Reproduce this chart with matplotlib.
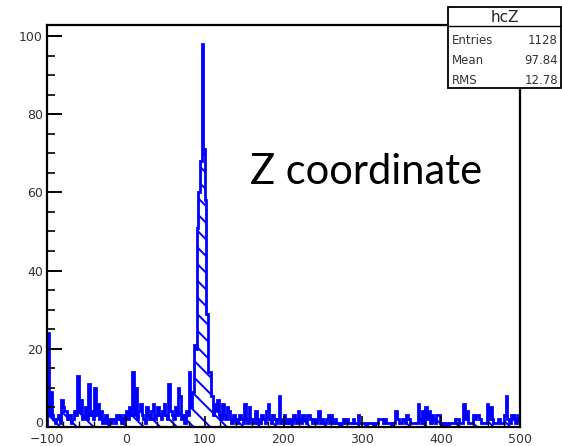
import numpy as np
import matplotlib.pyplot as plt
from matplotlib.patches import Rectangle
from matplotlib.lines import Line2D
from matplotlib.ticker import MultipleLocator

# histogram hcZ : 300 bins from -100 to 500 (2 units per bin)
x_lo, x_hi = -100, 500
counts = [
    24, 3, 9, 3, 2, 1, 2, 3, 1, 7,        # -100 .. -80
    5, 4, 4, 2, 3, 1, 2, 4, 3, 13,        # -80 .. -60
    4, 7, 2, 3, 5, 2, 11, 3, 4, 2,        # -60 .. -40
    10, 3, 6, 2, 4, 1, 2, 3, 1, 2,        # -40 .. -20
    1, 2, 2, 1, 3, 2, 3, 1, 2, 3,         # -20 .. 0
    4, 2, 5, 3, 14, 3, 10, 2, 4, 6,       # 0 .. 20
    3, 2, 1, 5, 3, 2, 4, 6, 2, 3,         # 20 .. 40
    5, 3, 2, 4, 6, 3, 2, 11, 4, 3,        # 40 .. 60
    2, 5, 3, 10, 8, 2, 3, 1, 4, 3,        # 60 .. 80
    14, 5, 9, 21, 20, 51, 60, 68, 98, 71, # 80 .. 100
    58, 29, 14, 14, 8, 3, 6, 4, 7, 3,     # 100 .. 120
    2, 6, 3, 2, 5, 4, 2, 1, 3, 2,         # 120 .. 140
    1, 2, 3, 2, 1, 6, 2, 1, 5, 2,         # 140 .. 160
    1, 2, 4, 1, 2, 1, 3, 2, 1, 4,         # 160 .. 180
    6, 2, 1, 3, 2, 1, 2, 8, 1, 2,         # 180 .. 200
    3, 1, 2, 1, 2, 1, 3, 2, 1, 4,         # 200 .. 220
    2, 1, 3, 2, 1, 3, 3, 2, 1, 2,         # 220 .. 240
    1, 2, 4, 1, 2, 1, 1, 2, 3, 1,         # 240 .. 260
    3, 1, 2, 1, 1, 0, 1, 1, 2, 1,         # 260 .. 280
    2, 1, 1, 1, 2, 1, 1, 3, 1, 1,         # 280 .. 300
    1, 1, 0, 1, 1, 1, 1, 0, 1, 1,         # 300 .. 320
    2, 2, 2, 1, 2, 1, 1, 1, 0, 1,         # 320 .. 340
    1, 4, 2, 1, 1, 2, 2, 1, 3, 2,         # 340 .. 360
    1, 1, 1, 1, 1, 6, 2, 1, 4, 1,         # 360 .. 380
    5, 2, 4, 1, 3, 2, 1, 3, 3, 1,         # 380 .. 400
    1, 0, 1, 1, 0, 1, 1, 1, 1, 2,         # 400 .. 420
    2, 1, 1, 1, 6, 2, 4, 1, 1, 1,         # 420 .. 440
    3, 2, 3, 3, 2, 1, 1, 1, 1, 6,         # 440 .. 460
    2, 5, 2, 1, 1, 1, 2, 1, 1, 1,         # 460 .. 480
    3, 8, 2, 1, 3, 2, 3, 1, 2, 3,         # 480 .. 500
]
stat_title = "hcZ"
stat_names = ["Entries", "Mean", "RMS"]
stat_values = ["1128", "97.84", "12.78"]
label = "Z coordinate"

W, H = 562, 446
edges = np.linspace(x_lo, x_hi, len(counts) + 1)

plt.rcParams['hatch.linewidth'] = 1.4

fig = plt.figure(figsize=(W / 100, H / 100), dpi=100)
ax = fig.add_axes([47 / W, 1 - 427 / H, (520 - 47) / W, (427 - 25) / H])

ax.stairs(counts, edges, fill=True, facecolor='none', edgecolor='#0000ff',
          hatch='\\\\', linewidth=0)
ax.stairs(counts, edges, color='#0000ff', linewidth=2.0)

ax.set_xlim(x_lo, x_hi)
ax.set_ylim(0, 102.8)
ax.xaxis.set_major_locator(MultipleLocator(100))
ax.xaxis.set_minor_locator(MultipleLocator(20))
ax.yaxis.set_major_locator(MultipleLocator(20))
ax.yaxis.set_minor_locator(MultipleLocator(5))

tc = '#333333'
ax.tick_params(axis='x', which='major', direction='in', length=8, width=1.2,
               labelsize=9, pad=4.5, labelcolor=tc, top=False)
ax.tick_params(axis='x', which='minor', direction='in', length=4, width=1.0, top=False)
ax.tick_params(axis='y', which='major', direction='in', length=11, width=1.4,
               labelsize=9, pad=3, labelcolor=tc, right=False)
ax.tick_params(axis='y', which='minor', direction='in', length=6, width=1.2, right=False)
for s in ax.spines.values():
    s.set_linewidth(1.6)

# keep the "0" on y clear of the "-100" below it
fig.canvas.draw()
for t in ax.yaxis.get_major_ticks():
    if abs(t.get_loc()) < 1e-9:
        t.label1.set_verticalalignment('baseline')

fig.text(250 / W, 1 - 172 / H, label, fontsize=30, family='Lato',
         ha='left', va='center', color='black')

# stats box
bx0, bx1, by0, by1 = 448, 561, 7, 88
fig.add_artist(Rectangle((bx0 / W, 1 - by1 / H), (bx1 - bx0) / W, (by1 - by0) / H,
                         transform=fig.transFigure, facecolor='white',
                         edgecolor='black', linewidth=1.3, zorder=5))
fig.add_artist(Line2D([bx0 / W, bx1 / W], [1 - 26 / H, 1 - 26 / H],
                      transform=fig.transFigure, color='black', lw=1.0, zorder=6))
fig.text((bx0 + bx1) / 2 / W, 1 - 17 / H, stat_title, fontsize=11, ha='center',
         va='center', color='#222222', zorder=7)
for i, (n, v) in enumerate(zip(stat_names, stat_values)):
    yy = 1 - (41 + 20 * i) / H
    fig.text(452 / W, yy, n, fontsize=8.5, ha='left', va='center', color='#333333', zorder=7)
    fig.text(558 / W, yy, v, fontsize=8.5, ha='right', va='center', color='#333333', zorder=7)

fig.savefig('out.png', dpi=100)
